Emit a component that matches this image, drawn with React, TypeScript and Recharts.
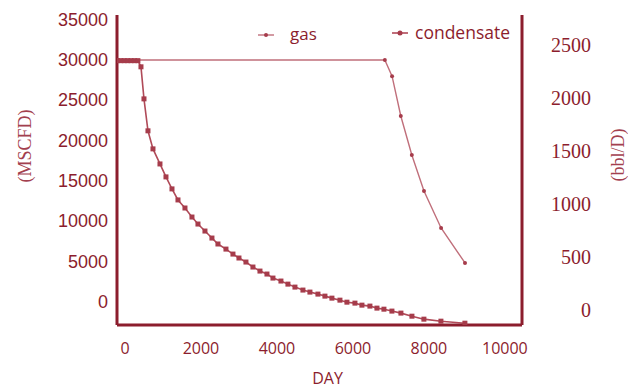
import { LineChart, Line, XAxis, YAxis } from "recharts";

/* ── Gas / condensate production profile ── */

const gasDay = [-200, 6840, 7030, 7260, 7550, 7870, 8320, 8950];
const gasRate = [30000, 30000, 28000, 23060, 18230, 13770, 9180, 4840];

const condDay = [
  -200, -110, -20, 70, 160, 250, 340, 421, 500, 605, 737, 921, 1079, 1237,
  1395, 1579, 1763, 1921, 2105, 2289, 2447, 2658, 2842, 3000, 3184, 3368,
  3553, 3737, 3895, 4105, 4289, 4474, 4684, 4868, 5079, 5263, 5447, 5658,
  5842, 6053, 6237, 6447, 6632, 6816, 7026, 7263, 7553, 7868, 8316, 8947,
];
const condRate = [
  2350, 2350, 2350, 2350, 2350, 2350, 2350, 2292, 1990, 1689, 1519, 1377,
  1255, 1142, 1038, 962, 877, 811, 745, 679, 623, 575, 528, 491, 453, 406,
  368, 340, 302, 274, 245, 217, 189, 170, 151, 132, 113, 94, 75, 66, 47, 38,
  19, 9, -9, -28, -57, -85, -104, -123,
];

const dayTicks = [0, 2000, 4000, 6000, 8000, 10000];
const gasTicks = [0, 5000, 10000, 15000, 20000, 25000, 30000, 35000];
const condTicks = [0, 500, 1000, 1500, 2000, 2500];

const gasData = gasDay.map((d, i) => ({ day: d, gas: gasRate[i] }));
const condData = condDay.map((d, i) => ({ day: d, condensate: condRate[i] }));

const AXIS = "#8c1d2d";
const TITLE = "#a3404e";
const COND = "#b04a58";
const GAS = "#c06f7b";
const MARK = "#a63c4b";

function LeftTick({ x, y, payload }: any) {
  return (
    <text x={x - 9} y={y} dy={6} textAnchor="end" fontFamily="Liberation Sans" fontSize={18} fill={AXIS}>
      {payload.value}
    </text>
  );
}

function RightTick({ x, y, payload }: any) {
  return (
    <text x={x + 69} y={y} dy={7} textAnchor="end" fontFamily="Liberation Serif" fontSize={20} fill={AXIS}>
      {payload.value}
    </text>
  );
}

function DayTick({ x, y, payload }: any) {
  return (
    <text x={x} y={y} dy={29} textAnchor="middle" fontFamily="Open Sans" fontSize={16} fill={AXIS}>
      {payload.value}
    </text>
  );
}

function SquareDot({ cx, cy, index }: any) {
  return <rect key={index} x={cx - 2.5} y={cy - 2.5} width={5} height={5} fill={MARK} />;
}

export default function App() {
  // absolute so the 380px chart plus body margin doesn't trigger a scrollbar
  return (
    <div style={{ position: "absolute", left: 8, top: 8, width: 620, height: 380 }}>
      <LineChart
        width={620}
        height={380}
        margin={{ top: 7, right: 0, left: 0, bottom: 0 }}
        style={{ background: "#fff" }}
      >
        <XAxis
          dataKey="day"
          type="number"
          domain={[-210, 10450]}
          ticks={dayTicks}
          allowDataOverflow
          height={63}
          tickSize={0}
          tickMargin={0}
          tickLine={false}
          tick={<DayTick />}
          axisLine={{ stroke: AXIS, strokeWidth: 3 }}
          label={({ viewBox }: any) => (
            <text
              x={viewBox.x + viewBox.width / 2 + 8}
              y={376}
              textAnchor="middle"
              fontFamily="Open Sans"
              fontSize={16}
              fill={AXIS}
            >
              DAY
            </text>
          )}
        />
        <XAxis
          xAxisId="top"
          orientation="top"
          dataKey="day"
          type="number"
          domain={[-210, 10450]}
          height={0}
          tick={false}
          tickLine={false}
          axisLine={{ stroke: AXIS, strokeWidth: 3 }}
        />
        <YAxis
          yAxisId="left"
          domain={[-2850, 35580]}
          ticks={gasTicks}
          allowDataOverflow
          width={109}
          tickSize={0}
          tickMargin={0}
          tickLine={false}
          tick={<LeftTick />}
          axisLine={{ stroke: AXIS, strokeWidth: 3 }}
          label={({ viewBox }: any) => (
            <text
              x={17}
              y={viewBox.y + viewBox.height / 2 - 24}
              transform={`rotate(-90, 17, ${viewBox.y + viewBox.height / 2 - 24})`}
              textAnchor="middle"
              dominantBaseline="central"
              fontFamily="Liberation Serif"
              fontSize={18}
              fill={TITLE}
            >
              (MSCFD)
            </text>
          )}
        />
        <YAxis
          yAxisId="right"
          orientation="right"
          domain={[-140, 2780]}
          ticks={condTicks}
          allowDataOverflow
          width={106}
          tickSize={0}
          tickMargin={0}
          tickLine={false}
          tick={<RightTick />}
          axisLine={{ stroke: AXIS, strokeWidth: 3 }}
          label={({ viewBox }: any) => (
            <text
              x={viewBox.x + 96}
              y={viewBox.y + viewBox.height / 2 - 15}
              transform={`rotate(-90, ${viewBox.x + 96}, ${viewBox.y + viewBox.height / 2 - 15})`}
              textAnchor="middle"
              dominantBaseline="central"
              fontFamily="Liberation Serif"
              fontSize={18}
              fill={TITLE}
            >
              (bbl/D)
            </text>
          )}
        />
        <Line
          data={gasData}
          dataKey="gas"
          yAxisId="left"
          type="linear"
          stroke={GAS}
          strokeWidth={1.4}
          dot={{ r: 2, fill: MARK, stroke: "none" }}
          isAnimationActive={false}
        />
        <Line
          data={condData}
          dataKey="condensate"
          yAxisId="right"
          type="linear"
          stroke={COND}
          strokeWidth={1.6}
          dot={<SquareDot />}
          isAnimationActive={false}
        />
      </LineChart>
      {/* legend */}
      <div style={{ position: "absolute", left: 250, top: 14, fontFamily: "Open Sans", fontSize: 17, color: AXIS }}>
        <svg width={16} height={6} style={{ position: "absolute", left: 0, top: 10 }}>
          <line x1={0} y1={3} x2={16} y2={3} stroke={GAS} strokeWidth={1.4} />
          <circle cx={8} cy={3} r={2} fill={MARK} />
        </svg>
        <span style={{ position: "absolute", left: 32, top: 0 }}>gas</span>
      </div>
      <div style={{ position: "absolute", left: 384, top: 12, fontFamily: "Open Sans", fontSize: 17.5, color: AXIS, whiteSpace: "nowrap" }}>
        <svg width={16} height={6} style={{ position: "absolute", left: 0, top: 10 }}>
          <line x1={0} y1={3} x2={16} y2={3} stroke={COND} strokeWidth={1.6} />
          <circle cx={8} cy={3} r={2.5} fill={MARK} />
        </svg>
        <span style={{ position: "absolute", left: 23, top: 0 }}>condensate</span>
      </div>
    </div>
  );
}
